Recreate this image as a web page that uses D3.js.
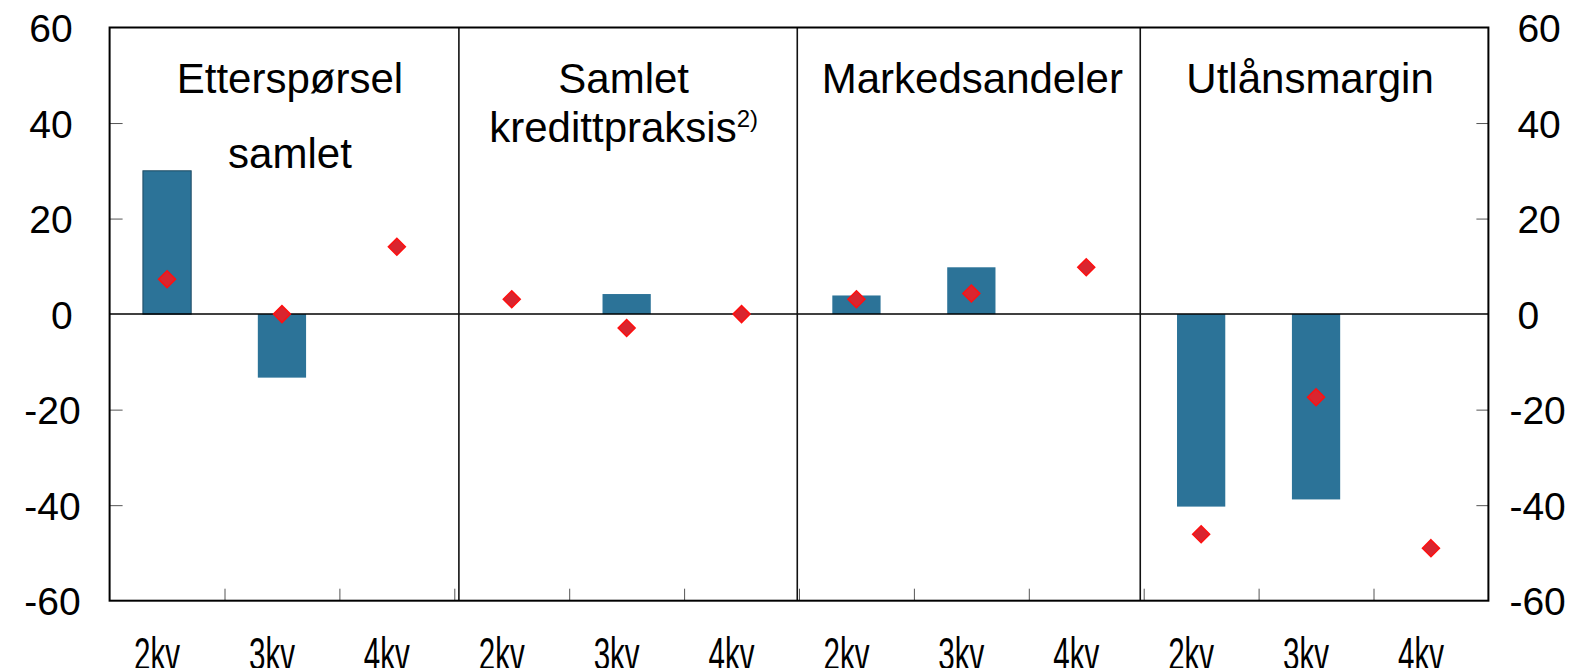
<!DOCTYPE html>
<html>
<head>
<meta charset="utf-8">
<script src="https://cdn.jsdelivr.net/npm/d3@7"></script>
<style>
  body { margin: 0; background: #fff; }
  text { font-family: "Liberation Sans", Arial, sans-serif; fill: #000; }
</style>
</head>
<body>
<script>
// data
var panelTitles = [["Etterspørsel", "samlet"], ["Samlet", "kredittpraksis"], ["Markedsandeler"], ["Utlånsmargin"]];
var quarters = ["2kv", "3kv", "4kv"];
var barValues = [30, -13.3, null, null, 4.2, null, 3.9, 9.8, null, -40.3, -38.8, null];
var markerValues = [7.3, 0, 14.1, 3.1, -2.9, 0, 3.1, 4.3, 9.8, -46.1, -17.4, -49];
var yTicks = [60, 40, 20, 0, -20, -40, -60];

var W = 1589, H = 668;
var plot = { left: 109.6, right: 1488.4, top: 27.5, bottom: 600.7 };

var svg = d3.select("body")
    .append("svg")
    .attr("width", W)
    .attr("height", H);

var cats = d3.range(barValues.length);

var x = d3.scaleBand()
    .domain(cats)
    .range([plot.left, plot.right])
    .padding(0);

var xb = d3.scaleLinear()
    .domain([0, cats.length])
    .range([plot.left, plot.right]);

var y = d3.scaleLinear()
    .domain([-60, 60])
    .range([plot.bottom, plot.top]);

// plain hyphen minus, like the original
var fmt = function (d) { return String(d) };

// bars
var bw = x.bandwidth() * 0.42;
svg.selectAll("rect.bar")
    .data(cats.filter(function (i) { return barValues[i] != null; }))
    .enter()
    .append("rect")
    .attr("class", "bar")
    .attr("x", function (i) { return x(i) + x.bandwidth() / 2 - bw / 2 })
    .attr("width", bw)
    .attr("y", function (i) { return y(Math.max(0, barValues[i])) })
    .attr("height", function (i) { return Math.abs(y(barValues[i]) - y(0)) })
    .attr("fill", "#2c7398")
    .attr("stroke", function (i) { return i == 0 ? "#1d4a63" : "none" })
    .attr("stroke-width", 1);

// zero line
svg.append("line")
    .attr("x1", plot.left).attr("x2", plot.right)
    .attr("y1", y(0)).attr("y2", y(0))
    .attr("stroke", "#000")
    .attr("stroke-width", 1.5);

// left / right axes
var yLeft = svg.append("g")
    .attr("transform", "translate(" + plot.left + ",0)")
    .call(d3.axisLeft(y).tickValues(yTicks).tickSize(-13).tickPadding(37).tickFormat(fmt));
var yRight = svg.append("g")
    .attr("transform", "translate(" + plot.right + ",0)")
    .call(d3.axisRight(y).tickValues(yTicks).tickSize(-12).tickPadding(29).tickFormat(fmt));

[yLeft, yRight].forEach(function (g, k) {
    g.select(".domain").remove();
    g.selectAll(".tick line")
        .attr("stroke", "#555")
        .attr("stroke-width", 1)
        .attr("display", function (d) { return Math.abs(d) == 60 || d == 0 ? "none" : null });
    g.selectAll(".tick text")
        .attr("font-size", 39)
        .attr("font-family", "Liberation Sans, Arial, sans-serif")
        .attr("fill", "#000")
        .attr("dy", "0.36em")
        .attr("dx", function (d) { return d < 0 ? (k == 0 ? 8 : -8) : 0 });
});

// bottom ticks at category boundaries
var xAxis = svg.append("g")
    .attr("transform", "translate(0," + plot.bottom + ")")
    .call(d3.axisBottom(xb).tickValues(d3.range(1, cats.length)).tickSize(-12).tickFormat(""));
xAxis.select(".domain").remove();
xAxis.selectAll(".tick line").attr("stroke", "#555").attr("stroke-width", 1);

// quarter labels (narrow, running off the bottom edge as in the original)
svg.selectAll("text.q")
    .data(cats)
    .enter()
    .append("text")
    .attr("class", "q")
    .attr("x", function (i) { return x(i) + x.bandwidth() / 2 - 10 })
    .attr("y", 670)
    .attr("text-anchor", "middle")
    .attr("font-size", 46)
    .attr("textLength", 46)
    .attr("lengthAdjust", "spacingAndGlyphs")
    .text(function (i) { return quarters[i % 3] });

// panel dividers (sit a little off the category boundaries in the original)
svg.selectAll("line.div")
    .data([3.04, 5.985, 8.97])
    .enter()
    .append("line")
    .attr("class", "div")
    .attr("x1", function (d) { return xb(d) }).attr("x2", function (d) { return xb(d) })
    .attr("y1", plot.top).attr("y2", plot.bottom)
    .attr("stroke", "#111")
    .attr("stroke-width", 1.6);

// frame
svg.append("rect")
    .attr("x", plot.left).attr("y", plot.top)
    .attr("width", plot.right - plot.left).attr("height", plot.bottom - plot.top)
    .attr("fill", "none")
    .attr("stroke", "#000")
    .attr("stroke-width", 2);

// markers
svg.selectAll("path.mk")
    .data(cats)
    .enter()
    .append("path")
    .attr("class", "mk")
    .attr("d", "M0,-8.5L8.5,0L0,8.5L-8.5,0Z")
    .attr("transform", function (i) { return "translate(" + (x(i) + x.bandwidth() / 2) + "," + y(markerValues[i]) + ")" })
    .attr("fill", "#d9252f")
    .attr("stroke", "#ff1010")
    .attr("stroke-width", 1.5);

// panel titles
var lineGap = [75, 49, 0, 0];
var titleDx = [8, -3, 1, -6];
panelTitles.forEach(function (lines, p) {
    var cx = xb(p * 3 + 1.5) + titleDx[p];
    lines.forEach(function (s, j) {
        var t = svg.append("text")
            .attr("x", cx)
            .attr("y", 93 + j * lineGap[p])
            .attr("text-anchor", "middle")
            .attr("font-size", 42)
            .text(s);
        if (p == 1 && j == 1) {
            t.append("tspan")
                .attr("font-size", 24)
                .attr("dy", -15)
                .text("2)");
        }
    });
});
</script>
</body>
</html>
